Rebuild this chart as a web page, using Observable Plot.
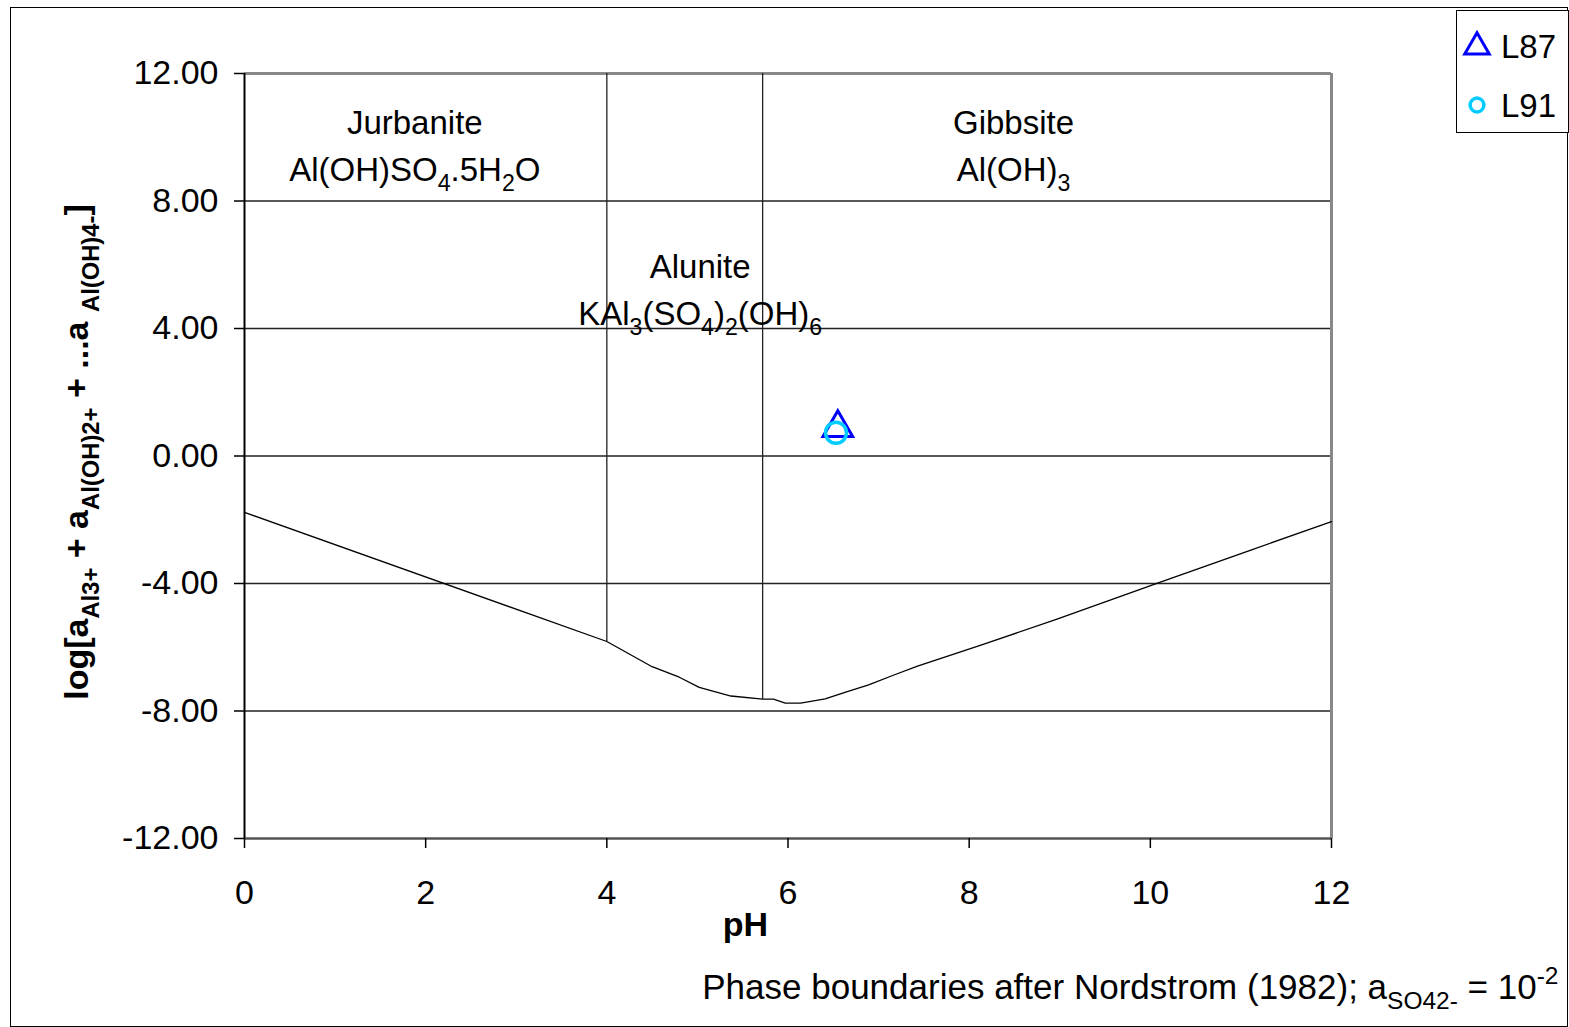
<!DOCTYPE html>
<html>
<head>
<meta charset="utf-8">
<script src="https://cdn.jsdelivr.net/npm/d3@7"></script>
<script src="https://cdn.jsdelivr.net/npm/@observablehq/plot@0.6"></script>
<style>
  html, body { margin: 0; padding: 0; background: #fff; }
  #wrap { position: relative; width: 1569px; height: 1027px; overflow: hidden; font-family: "Liberation Sans", Arial, sans-serif; }
  #outer { position: absolute; left: 10px; top: 7px; width: 1558px; height: 1020px; border: 1.5px solid #000; box-sizing: border-box; pointer-events: none; }
  #legend { position: absolute; left: 1456px; top: 10px; width: 113px; height: 123px; border: 1.5px solid #000; box-sizing: border-box; background: #fff; }
</style>
</head>
<body>
<div id="wrap">
  <div id="chart"></div>
  <div id="outer"></div>
  <div id="legend"></div>
</div>
<script>
// ---- Data ----
// Phase boundary (solubility) curve: pH vs log total dissolved Al activity
const curvePH  = [0, 4.0, 4.5, 4.8, 5.02, 5.37, 5.72, 5.84, 5.97, 6.14, 6.41, 6.62, 6.89, 7.17, 7.43, 8.13, 8.97, 10.08, 11.11, 12];
const curveLog = [-1.77, -5.82, -6.61, -6.94, -7.26, -7.53, -7.63, -7.63, -7.75, -7.75, -7.62, -7.42, -7.18, -6.87, -6.59, -5.93, -5.12, -3.99, -2.95, -2.06];

// Vertical phase boundaries (pH) and the curve value where they end
const boundaryPH     = [4.0, 5.72];
const boundaryBottom = [-5.82, -7.63];

// Samples
const seriesNames = ["L87", "L91"];
const samplePH    = [6.55, 6.53];
const sampleLog   = [0.88, 0.73];

// Mineral field labels (markup: _{sub})
const fieldText = ["Jurbanite", "Al(OH)SO_{4}.5H_{2}O", "Alunite", "KAl_{3}(SO_{4})_{2}(OH)_{6}", "Gibbsite", "Al(OH)_{3}"];
const fieldPH   = [1.88, 1.88, 5.03, 5.03, 8.49, 8.49];
const fieldLog  = [10.43, 8.96, 5.91, 4.44, 10.43, 8.95];

// Axes
const xTicks = [0, 2, 4, 6, 8, 10, 12];
const yTicks = [-12, -8, -4, 0, 4, 8, 12];
const gridY  = [-8, -4, 0, 4, 8];
const xTitle = "pH";
const yTitle = "log[a_{Al3+} + a_{Al(OH)2+} + ...a _{Al(OH)4-}]";
const caption = "Phase boundaries after Nordstrom (1982); a_{SO42-} = 10^{-2}";

// ---- Build tables ----
const curve = curvePH.map((p, i) => ({pH: p, log: curveLog[i]}));
const bounds = boundaryPH.map((p, i) => ({pH: p, bottom: boundaryBottom[i]}));
const samples = seriesNames.map((n, i) => ({name: n, pH: samplePH[i], log: sampleLog[i]}));
const fields = fieldText.map((t, i) => ({text: t, pH: fieldPH[i], log: fieldLog[i]}));

const FONT = "'Liberation Sans', Arial, sans-serif";

const chart = Plot.plot({
  width: 1569,
  height: 1027,
  marginLeft: 244,
  marginRight: 238,
  marginTop: 73,
  marginBottom: 189,
  style: {fontFamily: FONT, fontSize: "34px", color: "#000", background: "white", overflow: "visible"},
  x: {domain: [0, 12]},
  y: {domain: [-12, 12]},
  marks: [
    Plot.ruleY(gridY, {stroke: "#222", strokeWidth: 1.3}),
    Plot.ruleY([12], {stroke: "#888", strokeWidth: 3}),
    Plot.ruleX([12], {stroke: "#888", strokeWidth: 3}),
    Plot.ruleY([-12], {stroke: "#555", strokeWidth: 2.5}),
    Plot.ruleX([0], {stroke: "#000", strokeWidth: 2}),
    Plot.ruleX(bounds, {x: "pH", y1: "bottom", y2: () => 12, stroke: "#222", strokeWidth: 1.3}),
    Plot.line(curve, {x: "pH", y: "log", stroke: "#000", strokeWidth: 1.3}),
    Plot.dot(samples.filter(d => d.name === "L87"), {x: "pH", y: "log", symbol: "triangle", r: 11, stroke: "#0000ff", strokeWidth: 3, fill: "none"}),
    Plot.dot(samples.filter(d => d.name === "L91"), {x: "pH", y: "log", r: 10.5, stroke: "#00ccff", strokeWidth: 3.5, fill: "none"}),
    Plot.text(fields, {x: "pH", y: "log", text: "text", fontSize: 33, fill: "#000"}),
    Plot.axisY({ticks: yTicks, tickSize: 10, tickPadding: 16, tickFormat: d => d.toFixed(2), fontSize: 34, label: null, strokeWidth: 1.5}),
    Plot.axisX({ticks: xTicks, tickSize: 10, tickPadding: 31, tickFormat: d => String(d), fontSize: 34, label: null, strokeWidth: 1.5}),
    Plot.text([xTitle], {x: () => 5.53, frameAnchor: "bottom", textAnchor: "middle", dy: 97, text: d => d, fontSize: 34, fontWeight: "bold"}),
    Plot.text([yTitle], {frameAnchor: "left", textAnchor: "middle", dx: -167, dy: -4, rotate: -90, text: d => d, fontSize: 34, fontWeight: "bold"}),
    Plot.text([caption], {frameAnchor: "bottom-right", textAnchor: "end", dx: 227, dy: 160, text: d => d, fontSize: 35})
  ]
});

document.getElementById("chart").appendChild(chart);

// Convert _{..} and ^{..} markup to sub/superscript tspans
function richify(root) {
  const NS = "http://www.w3.org/2000/svg";
  root.querySelectorAll("text").forEach(t => {
    const s = t.textContent;
    if (!/[_^]\{/.test(s)) return;
    const fs = parseFloat(getComputedStyle(t).fontSize) || 33;
    const parts = [];
    const re = /([_^])\{([^}]*)\}/g;
    let last = 0, m;
    while ((m = re.exec(s))) {
      if (m.index > last) parts.push([s.slice(last, m.index), 0]);
      parts.push([m[2], m[1] === "_" ? 1 : -1]);
      last = re.lastIndex;
    }
    if (last < s.length) parts.push([s.slice(last), 0]);
    while (t.firstChild) t.removeChild(t.firstChild);
    let cur = 0;
    for (const [str, kind] of parts) {
      const ts = document.createElementNS(NS, "tspan");
      const target = kind === 1 ? 0.3 * fs : kind === -1 ? -0.42 * fs : 0;
      if (target !== cur) ts.setAttribute("dy", (target - cur).toFixed(2));
      cur = target;
      if (kind) ts.setAttribute("font-size", (0.7 * fs).toFixed(1));
      ts.textContent = str;
      t.appendChild(ts);
    }
  });
}
richify(chart);

// Legend (HTML box with SVG symbols)
const legendSvg = d3.select("#legend").append("svg")
  .attr("width", 111).attr("height", 121)
  .style("font-family", FONT).style("font-size", "33px");
const legendRows = [
  {name: seriesNames[0], sym: d3.symbolTriangle, color: "#0000ff", size: 260, sw: 3, cy: 36, ty: 47},
  {name: seriesNames[1], sym: d3.symbolCircle, color: "#00ccff", size: 150, sw: 3.5, cy: 94, ty: 106}
];
legendRows.forEach(r => {
  legendSvg.append("path")
    .attr("d", d3.symbol(r.sym, r.size)())
    .attr("transform", `translate(20,${r.cy})`)
    .attr("fill", "none").attr("stroke", r.color).attr("stroke-width", r.sw);
  legendSvg.append("text").attr("x", 44).attr("y", r.ty).text(r.name);
});
</script>
</body>
</html>
